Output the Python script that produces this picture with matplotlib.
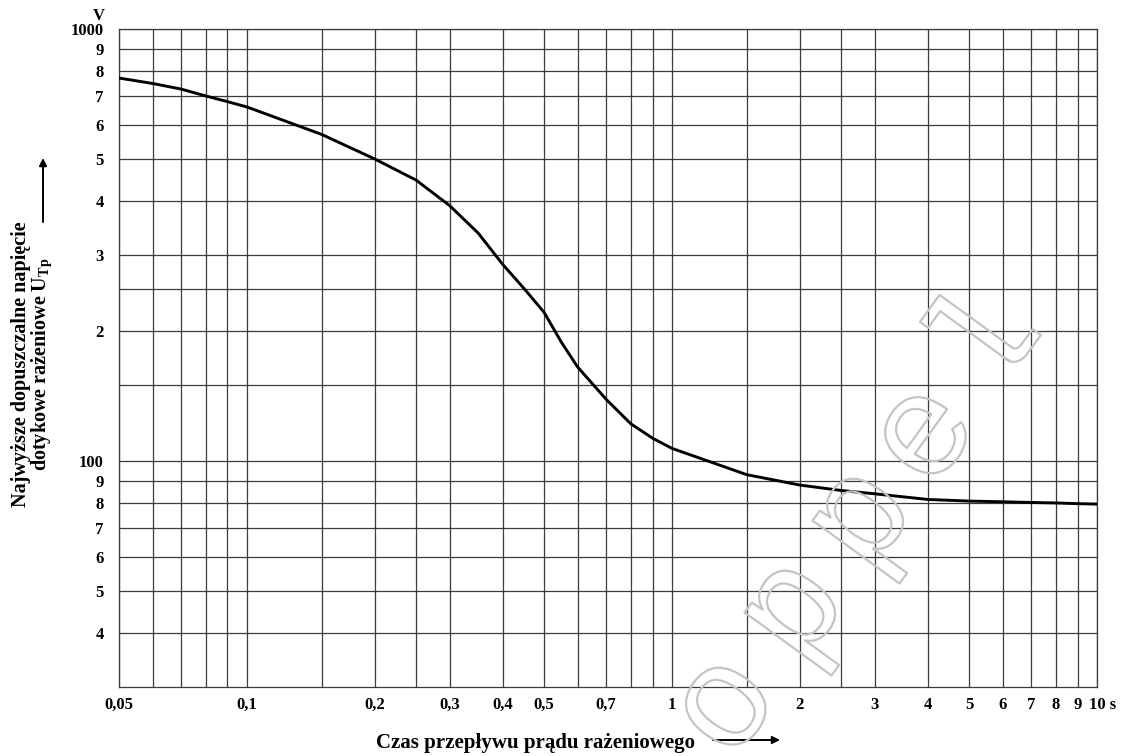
import matplotlib
matplotlib.use('Agg')
import matplotlib.pyplot as plt
from matplotlib import patheffects as pe
from matplotlib.ticker import NullLocator

# ---------------- data ----------------
time_s = [0.05, 0.06, 0.07, 0.08, 0.09, 0.1, 0.15, 0.2, 0.25, 0.3, 0.35, 0.4,
          0.45, 0.5, 0.55, 0.6, 0.7, 0.8, 0.9, 1, 1.5, 2, 2.5, 3, 4, 5, 6, 7,
          8, 9, 10]
voltage_V = [770, 748, 726, 700, 679, 660, 570, 500, 447, 390, 337, 285,
             250, 221, 188, 165, 139, 122, 113, 107, 93, 88, 85.5, 84, 81.5,
             80.8, 80.5, 80.2, 80, 79.7, 79.5]

x_grid = [0.05, 0.06, 0.07, 0.08, 0.09, 0.1, 0.15, 0.2, 0.25, 0.3, 0.4, 0.5,
          0.6, 0.7, 0.8, 0.9, 1, 1.5, 2, 2.5, 3, 4, 5, 6, 7, 8, 9, 10]
x_labels = {0.05: '0,05', 0.1: '0,1', 0.2: '0,2', 0.3: '0,3', 0.4: '0,4',
            0.5: '0,5', 0.7: '0,7', 1: '1', 2: '2', 3: '3', 4: '4', 5: '5',
            6: '6', 7: '7', 8: '8', 9: '9'}
last_x_label = '10 s'

y_grid = [1000, 900, 800, 700, 600, 500, 400, 300, 250, 200, 150, 100, 90,
          80, 70, 60, 50, 40]
y_labels = {1000: '1000', 900: '9', 800: '8', 700: '7', 600: '6', 500: '5',
            400: '4', 300: '3', 200: '2', 100: '100', 90: '9', 80: '8',
            70: '7', 60: '6', 50: '5', 40: '4'}

ylabel_line1 = 'Najwyższe dopuszczalne napięcie'
ylabel_line2 = 'dotykowe rażeniowe U$_{\\mathrm{Tp}}$'
xlabel_text = 'Czas przepływu prądu rażeniowego'
unit_y = 'V'
watermark_letters = ['o', 'p', 'p', 'e', 'l']

# ---------------- style ----------------
plt.rcParams['font.family'] = ['Liberation Serif', 'DejaVu Serif']
plt.rcParams['font.weight'] = 'bold'
plt.rcParams['mathtext.fontset'] = 'custom'
plt.rcParams['mathtext.rm'] = 'Liberation Serif'
plt.rcParams['mathtext.it'] = 'Liberation Serif:italic'
plt.rcParams['mathtext.bf'] = 'Liberation Serif:bold'

W, H = 1121, 756
fig = plt.figure(figsize=(W / 100, H / 100), dpi=100)
fig.patch.set_facecolor('white')

L, R, T, B = 119, 1097, 29, 687
ax = fig.add_axes([L / W, 1 - B / H, (R - L) / W, (B - T) / H])
ax.set_xscale('log')
ax.set_yscale('log')
ax.set_xlim(0.05, 10)
ax.set_ylim(30, 1000)

grid_color = '#3a3a3a'
ax.set_xticks(x_grid, [x_labels.get(v, '') for v in x_grid])
ax.set_yticks(y_grid, [y_labels.get(v, '') for v in y_grid])
ax.xaxis.set_minor_locator(NullLocator())
ax.yaxis.set_minor_locator(NullLocator())
ax.tick_params(axis='both', length=0, labelsize=12)
ax.tick_params(axis='x', pad=7.0)
ax.tick_params(axis='y', pad=11.0)
for lab in ax.get_xticklabels() + ax.get_yticklabels():
    lab.set_fontweight('bold')
ax.grid(True, which='major', color=grid_color, lw=0.9)
for s in ax.spines.values():
    s.set_color(grid_color)
    s.set_linewidth(0.9)

ax.annotate(last_x_label, xy=(10, 0), xycoords=('data', 'axes fraction'),
            xytext=(-6.0, -7.0), textcoords='offset points', ha='left',
            va='top', fontsize=12, fontweight='bold', annotation_clip=False)

ax.plot(time_s, voltage_V, color='black', lw=2.1, solid_joinstyle='round',
        solid_capstyle='butt', zorder=3)

# ---------------- labels ----------------
fig.text(99 / W, 1 - 16 / H, unit_y, ha='center', va='center', fontsize=12,
         fontweight='bold')
fig.text(21 / W, 1 - 364 / H, ylabel_line1, rotation=90, ha='center',
         va='center', fontsize=14.5, fontweight='bold')
fig.text(42 / W, 1 - 364 / H, ylabel_line2, rotation=90, ha='center',
         va='center', fontsize=14.5, fontweight='bold')
fig.text(536 / W, 1 - 743 / H, xlabel_text, ha='center', va='center',
         fontsize=15, fontweight='bold')

arrow_kw = dict(arrowstyle='-|>', lw=1.4, color='black', mutation_scale=11,
                shrinkA=0, shrinkB=0)
ax.annotate('', xy=(43, H - 158), xytext=(43, H - 222),
            xycoords='figure pixels', textcoords='figure pixels',
            arrowprops=arrow_kw, annotation_clip=False)
ax.annotate('', xy=(780, H - 740), xytext=(713, H - 740),
            xycoords='figure pixels', textcoords='figure pixels',
            arrowprops=arrow_kw, annotation_clip=False)

# ---------------- watermark (outlined letters) ----------------
wm_anchor_px = [(757, 729), (825, 633), (893, 541), (956, 458), (1020, 364)]
for ch, (px, py) in zip(watermark_letters, wm_anchor_px):
    fig.text(px / W, 1 - py / H, ch, fontsize=105, fontweight='normal',
             family='Liberation Mono', rotation=54, rotation_mode='anchor',
             ha='center', va='baseline', color=(1, 1, 1, 0), zorder=10,
             path_effects=[pe.Stroke(linewidth=1.6, foreground='#c4c4c4')])

fig.savefig('out.png', dpi=100)
